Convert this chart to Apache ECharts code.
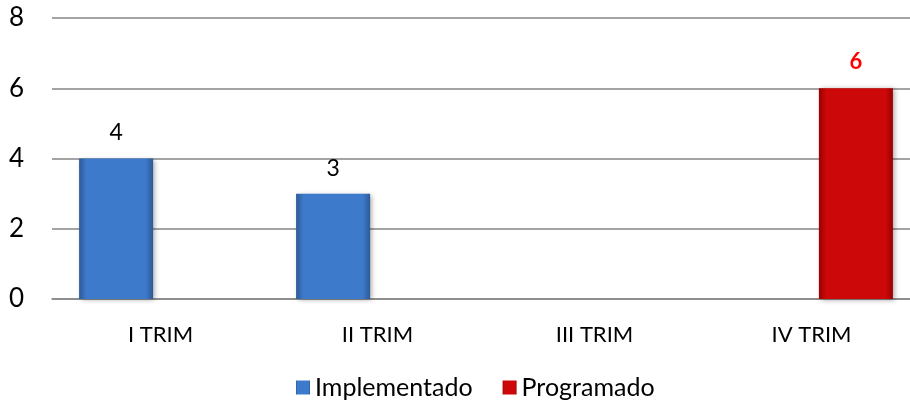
<!DOCTYPE html>
<html lang="es">
<head>
    <meta charset="UTF-8">
    <title>Implementado / Programado</title>
    <style>
        html, body { margin: 0; padding: 0; background: #fff; overflow: hidden; }
        /* el área del gráfico sigue unos px más allá del borde derecho, como en el original */
        #chart { width: 920px; height: 403px; }
    </style>
</head>
<body>
<div id="chart"></div>
<script src="https://cdn.jsdelivr.net/npm/echarts@6/dist/echarts.min.js"></script>
<script type="text/javascript">
    var categories = ['I TRIM', 'II TRIM', 'III TRIM', 'IV TRIM'];
    var implementado = [4, 3, null, null];
    var programado = [null, null, null, 6];
    var yTicks = [0, 2, 4, 6, 8];

    var font = 'Lato, "Open Sans", sans-serif';

    function barGrad(edge, mid) {
        return new echarts.graphic.LinearGradient(0, 0, 1, 0, [
            {offset: 0, color: edge},
            {offset: 0.1, color: mid},
            {offset: 0.9, color: mid},
            {offset: 1, color: edge}
        ]);
    }

    var myChart = echarts.init(document.getElementById('chart'));
    myChart.setOption({
        animation: false,
        backgroundColor: '#ffffff',
        grid: {left: 52, top: 18, right: 0, bottom: 104},
        legend: {
            top: 370,
            left: 291,
            itemWidth: 14,
            itemHeight: 14,
            itemGap: 30,
            itemTextGap: 8,
            icon: 'rect',
            textStyle: {fontFamily: font, fontSize: 25, color: '#000'},
            data: ['Implementado', 'Programado']
        },
        xAxis: {
            type: 'category',
            data: categories,
            axisLine: {lineStyle: {color: '#868686', width: 1.5}},
            axisTick: {show: false},
            axisLabel: {fontFamily: font, fontSize: 22, color: '#000', margin: 25}
        },
        yAxis: {
            type: 'value',
            min: yTicks[0],
            max: yTicks[yTicks.length - 1],
            interval: 2,
            axisLine: {show: false},
            axisTick: {show: false},
            splitLine: {lineStyle: {color: '#868686', width: 1.5}},
            axisLabel: {fontFamily: font, fontSize: 26, color: '#000', margin: 28}
        },
        series: [
            {
                name: 'Implementado',
                type: 'bar',
                data: implementado,
                barWidth: 74,
                barGap: '20%',
                itemStyle: {
                    color: barGrad('#2c5a96', '#3d7acb'),
                    shadowColor: 'rgba(0,0,0,0.35)',
                    shadowBlur: 5,
                    shadowOffsetX: 2,
                    shadowOffsetY: 1
                },
                label: {
                    show: true,
                    position: 'top',
                    distance: 14,
                    fontFamily: font,
                    fontSize: 23,
                    color: '#000'
                }
            },
            {
                name: 'Programado',
                type: 'bar',
                data: programado,
                barWidth: 74,
                itemStyle: {
                    color: barGrad('#9a0000', '#cc0808'),
                    shadowColor: 'rgba(0,0,0,0.35)',
                    shadowBlur: 5,
                    shadowOffsetX: 2,
                    shadowOffsetY: 1
                },
                label: {
                    show: true,
                    position: 'top',
                    distance: 15,
                    fontFamily: font,
                    fontSize: 22,
                    fontWeight: 'bold',
                    color: '#ff0000'
                }
            }
        ]
    });
</script>
</body>
</html>
